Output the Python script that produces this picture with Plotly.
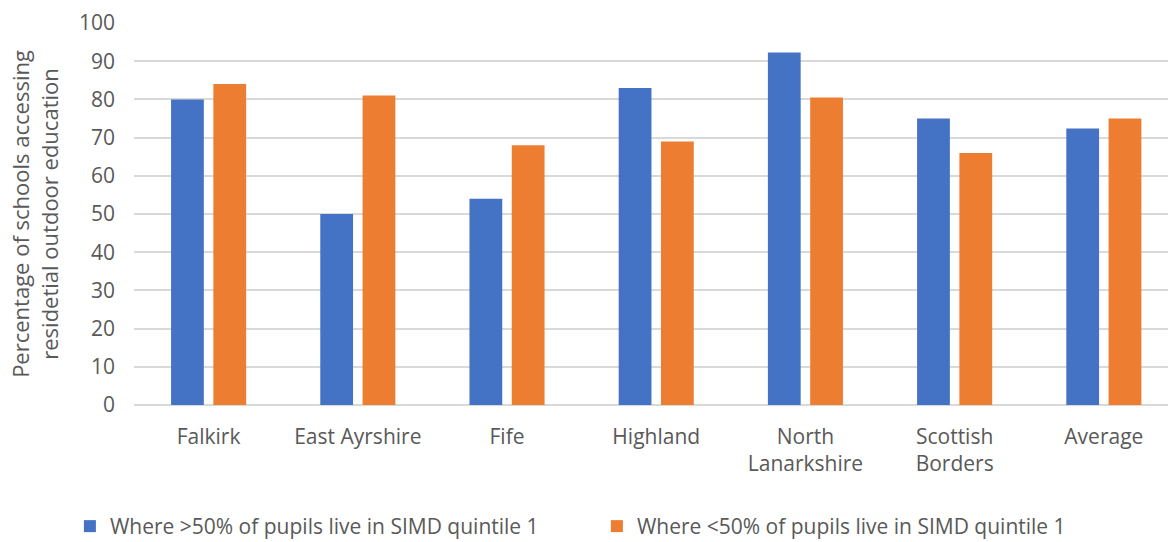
import plotly.graph_objects as go

# Local authority areas plotted along the x-axis
areas = ["Falkirk", "East Ayrshire", "Fife", "Highland",
         "North<br>Lanarkshire", "Scottish<br>Borders", "Average"]

# Percentage of schools accessing residential outdoor education
high_simd = [80, 50, 54, 83, 92.3, 75, 72.4]
low_simd = [84, 81, 68, 69, 80.5, 66, 75]

series_names = ["Where >50% of pupils live in SIMD quintile 1",
                "Where <50% of pupils live in SIMD quintile 1"]

y_ticks = list(range(0, 101, 10))

FONT = "Open Sans"
GREY = "#595959"
SIZE = 21

fig = go.Figure()
fig.add_trace(go.Bar(x=areas, y=high_simd, name=series_names[0],
                     marker=dict(color="#4472C4", line=dict(width=0))))
fig.add_trace(go.Bar(x=areas, y=low_simd, name=series_names[1],
                     marker=dict(color="#ED7D31", line=dict(width=0))))

fig.update_layout(
    width=1168, height=542,
    margin=dict(l=134, r=0, t=23, b=137, autoexpand=False),
    paper_bgcolor="white", plot_bgcolor="white",
    barmode="group", bargap=0.433, bargroupgap=0.225,
    font=dict(family=FONT, size=SIZE, color=GREY),
    showlegend=True,
    legend=dict(orientation="h", x=-0.062, xanchor="left",
                y=-0.3717, yanchor="bottom",
                entrywidth=482, entrywidthmode="pixels",
                font=dict(family=FONT, size=SIZE, color=GREY),
                itemwidth=30, traceorder="normal"),
)

fig.update_xaxes(range=[-0.5, 6.43], showgrid=False, showline=False,
                 ticks="", ticklabelstandoff=17,
                 tickfont=dict(family=FONT, size=SIZE, color=GREY))
fig.update_yaxes(range=[0, 100], tickvals=y_ticks, showgrid=True,
                 gridcolor="#D9D9D9", gridwidth=1.5, zeroline=True,
                 zerolinecolor="#D9D9D9", zerolinewidth=1.5,
                 showline=False, ticks="", ticklabelstandoff=18,
                 tickfont=dict(family=FONT, size=SIZE, color=GREY),
                 title=dict(text="Percentage of schools accessing<br>residetial outdoor education",
                            font=dict(family=FONT, size=22, color=GREY),
                            standoff=14))

fig.write_html("out.html")
